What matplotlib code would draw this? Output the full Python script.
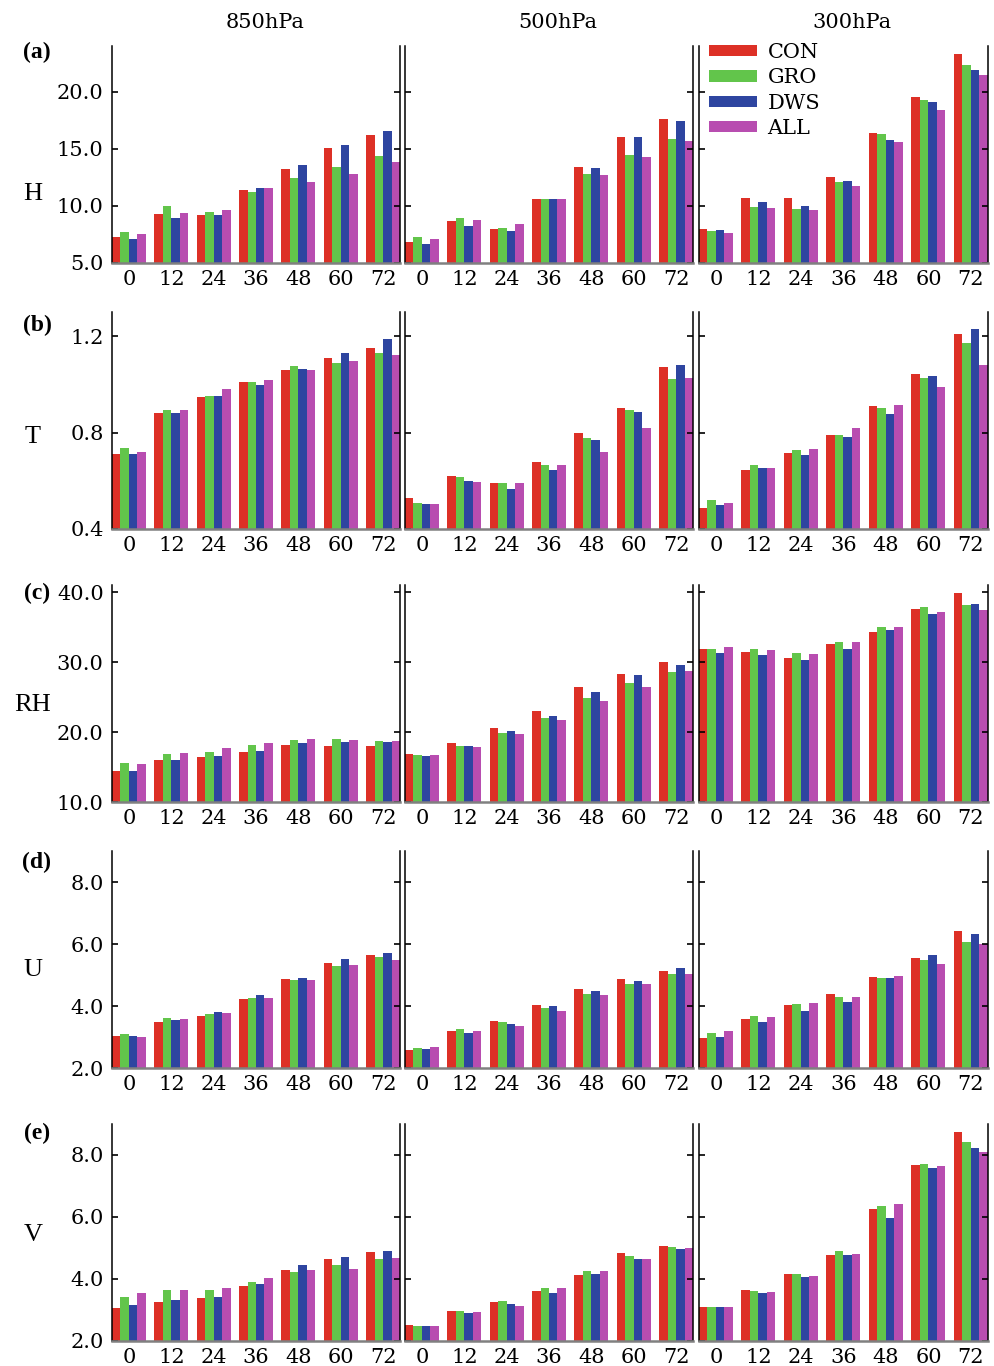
import matplotlib
matplotlib.use("Agg")
import matplotlib.pyplot as plt
from matplotlib.patches import Patch
import numpy as np

# ---------------- data ----------------
lead_times = ["0", "12", "24", "36", "48", "60", "72"]
experiments = ["CON", "GRO", "DWS", "ALL"]
levels = ["850hPa", "500hPa", "300hPa"]
variables = ["H", "T", "RH", "U", "V"]
panel_tags = ["(a)", "(b)", "(c)", "(d)", "(e)"]

# each: rows = CON, GRO, DWS, ALL ; columns = lead times
H_850 = [[7.3, 9.3, 9.2, 11.4, 13.2, 15.1, 16.2],
         [7.7, 10.0, 9.5, 11.2, 12.4, 13.4, 14.4],
         [7.1, 8.9, 9.2, 11.6, 13.6, 15.3, 16.6],
         [7.5, 9.4, 9.6, 11.6, 12.1, 12.8, 13.8]]
H_500 = [[6.8, 8.7, 8.0, 10.6, 13.4, 16.0, 17.6],
         [7.3, 8.9, 8.1, 10.6, 12.8, 14.5, 15.9],
         [6.7, 8.2, 7.8, 10.6, 13.3, 16.0, 17.4],
         [7.1, 8.8, 8.4, 10.6, 12.7, 14.3, 15.7]]
H_300 = [[8.0, 10.7, 10.7, 12.5, 16.4, 19.5, 23.3],
         [7.8, 9.9, 9.7, 12.1, 16.3, 19.3, 22.3],
         [7.9, 10.3, 10.0, 12.2, 15.8, 19.1, 21.9],
         [7.6, 9.8, 9.6, 11.7, 15.6, 18.4, 21.5]]

T_850 = [[0.710, 0.880, 0.946, 1.008, 1.058, 1.108, 1.149],
         [0.735, 0.892, 0.950, 1.008, 1.074, 1.087, 1.128],
         [0.710, 0.880, 0.950, 0.996, 1.062, 1.128, 1.190],
         [0.719, 0.892, 0.979, 1.017, 1.058, 1.095, 1.120]]
T_500 = [[0.528, 0.619, 0.590, 0.677, 0.797, 0.900, 1.070],
         [0.508, 0.615, 0.590, 0.665, 0.777, 0.892, 1.021],
         [0.503, 0.599, 0.566, 0.644, 0.768, 0.884, 1.079],
         [0.503, 0.594, 0.590, 0.665, 0.719, 0.818, 1.025]]
T_300 = [[0.487, 0.644, 0.714, 0.789, 0.909, 1.041, 1.207],
         [0.520, 0.665, 0.727, 0.789, 0.900, 1.025, 1.170],
         [0.499, 0.652, 0.706, 0.781, 0.876, 1.033, 1.228],
         [0.508, 0.652, 0.731, 0.818, 0.913, 0.988, 1.079]]

RH_850 = [[14.5, 16.0, 16.4, 17.1, 18.1, 18.0, 18.0],
          [15.6, 16.9, 17.1, 18.1, 18.8, 19.0, 18.7],
          [14.4, 16.0, 16.6, 17.3, 18.4, 18.6, 18.6],
          [15.4, 17.0, 17.7, 18.4, 19.0, 18.8, 18.7]]
RH_500 = [[16.8, 18.4, 20.6, 23.0, 26.4, 28.3, 30.0],
          [16.7, 18.0, 19.8, 22.0, 24.9, 27.0, 28.6],
          [16.6, 18.0, 20.1, 22.3, 25.7, 28.2, 29.6],
          [16.7, 17.8, 19.7, 21.7, 24.4, 26.4, 28.7]]
RH_300 = [[31.9, 31.5, 30.6, 32.6, 34.3, 37.6, 39.8],
          [31.9, 31.9, 31.3, 32.9, 35.0, 37.8, 38.2],
          [31.3, 31.0, 30.3, 31.9, 34.6, 36.8, 38.3],
          [32.2, 31.7, 31.2, 32.8, 35.0, 37.1, 37.5]]

U_850 = [[3.02, 3.47, 3.67, 4.22, 4.87, 5.38, 5.64],
         [3.09, 3.60, 3.73, 4.25, 4.84, 5.29, 5.58],
         [3.02, 3.54, 3.80, 4.34, 4.90, 5.51, 5.70],
         [2.99, 3.57, 3.77, 4.25, 4.84, 5.32, 5.48]]
U_500 = [[2.57, 3.18, 3.51, 4.02, 4.54, 4.87, 5.12],
         [2.63, 3.25, 3.47, 3.92, 4.38, 4.71, 5.03],
         [2.60, 3.12, 3.41, 3.99, 4.48, 4.81, 5.22],
         [2.67, 3.18, 3.34, 3.83, 4.35, 4.71, 5.03]]
U_300 = [[2.96, 3.57, 4.02, 4.38, 4.94, 5.54, 6.41],
         [3.12, 3.67, 4.05, 4.28, 4.90, 5.48, 6.05],
         [2.99, 3.47, 3.85, 4.12, 4.90, 5.64, 6.32],
         [3.18, 3.64, 4.09, 4.28, 4.97, 5.35, 5.99]]

V_850 = [[3.05, 3.25, 3.38, 3.77, 4.29, 4.65, 4.87],
         [3.41, 3.64, 3.64, 3.90, 4.23, 4.45, 4.65],
         [3.15, 3.31, 3.41, 3.84, 4.45, 4.71, 4.90],
         [3.54, 3.64, 3.71, 4.03, 4.29, 4.32, 4.68]]
V_500 = [[2.51, 2.96, 3.25, 3.61, 4.13, 4.84, 5.06],
         [2.47, 2.96, 3.28, 3.71, 4.26, 4.74, 5.03],
         [2.47, 2.89, 3.18, 3.54, 4.16, 4.65, 4.97],
         [2.47, 2.92, 3.12, 3.71, 4.26, 4.65, 5.00]]
V_300 = [[3.09, 3.64, 4.16, 4.77, 6.26, 7.67, 8.74],
         [3.09, 3.61, 4.16, 4.90, 6.35, 7.71, 8.42],
         [3.09, 3.54, 4.06, 4.77, 5.97, 7.58, 8.22],
         [3.09, 3.58, 4.10, 4.81, 6.42, 7.63, 8.10]]

y_ranges = [(5.0, 24.0), (0.4, 1.3), (10.0, 41.0), (2.0, 9.0), (2.0, 9.0)]
y_ticks = [[5, 10, 15, 20], [0.4, 0.8, 1.2], [10, 20, 30, 40], [2, 4, 6, 8], [2, 4, 6, 8]]

colors = ["#DD3026", "#62C54B", "#2E45A0", "#B84DB0"]

table = [[H_850, H_500, H_300],
         [T_850, T_500, T_300],
         [RH_850, RH_500, RH_300],
         [U_850, U_500, U_300],
         [V_850, V_500, V_300]]

# ---------------- layout ----------------
W, Hpx = 995, 1366
fig = plt.figure(figsize=(W / 100, Hpx / 100), dpi=100)

col_x = [(112, 400), (405, 693), (699, 988)]
row_y = [(46, 263), (312, 529), (585, 802), (851, 1068), (1124, 1341)]

tick_font = dict(family="DejaVu Serif", size=15)
bar_w = 0.2
x = np.arange(len(lead_times))

for r in range(5):
    for c in range(3):
        x0, x1 = col_x[c]
        yt, yb = row_y[r]
        ax = fig.add_axes([x0 / W, 1 - yb / Hpx, (x1 - x0) / W, (yb - yt) / Hpx])
        data = table[r][c]
        for k in range(4):
            ax.bar(x + k * bar_w, data[k], width=bar_w, align="edge",
                   color=colors[k], linewidth=0, label=experiments[k])
        ax.set_xlim(0, len(lead_times) - 1 + 4 * bar_w)
        ax.set_ylim(*y_ranges[r])
        ax.set_xticks(x + 2 * bar_w)
        ax.set_xticklabels(lead_times, fontdict=tick_font)
        ax.set_yticks(y_ticks[r])
        if c == 0:
            ax.set_yticklabels(["%.1f" % v for v in y_ticks[r]], fontdict=tick_font)
        else:
            ax.set_yticklabels([])
        ax.tick_params(axis="x", length=0, pad=5)
        ax.tick_params(axis="y", direction="in", length=4, width=1.2,
                       left=True, right=True, pad=6)
        ax.spines["top"].set_visible(False)
        ax.spines["left"].set_linewidth(1.1)
        ax.spines["right"].set_linewidth(1.1)
        ax.spines["bottom"].set_color("#808080")
        ax.spines["bottom"].set_linewidth(1.8)

        if r == 0 and c == 2:
            handles = [Patch(facecolor=colors[k], edgecolor="none") for k in range(4)]
            ax.legend(handles, experiments, loc="upper left",
                      bbox_to_anchor=(705 / W, 1 - 39 / Hpx),
                      bbox_transform=fig.transFigure, frameon=False,
                      prop=dict(family="DejaVu Serif", size=15),
                      handlelength=2.3, handleheight=0.45, handletextpad=0.5,
                      labelspacing=0.3, borderpad=0.2, borderaxespad=0)

# column titles
for c, lev in enumerate(levels):
    cx = [265, 558, 852][c]
    fig.text(cx / W, 1 - 22 / Hpx, lev, ha="center", va="center",
             family="DejaVu Serif", size=15)

# row labels
var_y = [194, 437, 705, 970, 1235]
tag_y = [52, 325, 593, 862, 1133]
for r in range(5):
    fig.text(33 / W, 1 - var_y[r] / Hpx, variables[r], ha="center", va="center",
             family="Liberation Serif", size=19)
    fig.text(37 / W, 1 - tag_y[r] / Hpx, panel_tags[r], ha="center", va="center",
             family="Liberation Serif", weight="bold", size=17)

fig.savefig("out.png", dpi=100)
